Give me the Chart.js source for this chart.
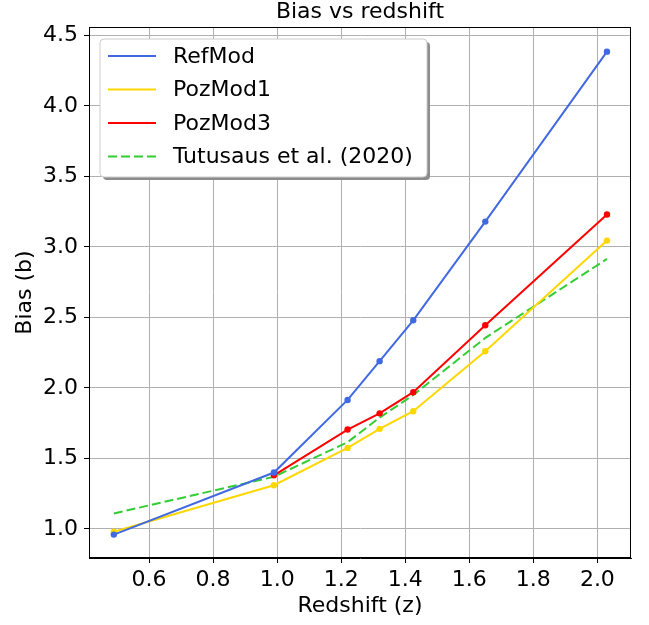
<!DOCTYPE html>
<html>
<head>
<meta charset="utf-8">
<title>Bias vs redshift</title>
<script src="https://cdn.jsdelivr.net/npm/chart.js@4.4.1/dist/chart.umd.min.js"></script>
<style>
  html, body { margin: 0; padding: 0; background: #ffffff; }
  #wrap { width: 649px; height: 625px; }
</style>
</head>
<body>
<div id="wrap"><canvas id="biasChart" width="649" height="625"></canvas></div>
<script>
// redshift bins and bias per model
const redshift = [0.49, 0.99, 1.22, 1.32, 1.425, 1.65, 2.03];
const refMod   = [0.96, 1.40, 1.915, 2.19, 2.48, 3.18, 4.385];
const pozMod1  = [0.98, 1.31, 1.575, 1.71, 1.835, 2.26, 3.045];
const pozMod3  = [null, 1.38, 1.705, 1.82, 1.97, 2.445, 3.23];
const tutusaus = [1.11, 1.37, 1.615, 1.79, 1.95, 2.355, 2.915];

const xTicks = [0.6, 0.8, 1.0, 1.2, 1.4, 1.6, 1.8, 2.0];
const yTicks = [1.0, 1.5, 2.0, 2.5, 3.0, 3.5, 4.0, 4.5];

const chartTitle = 'Bias vs redshift';

const FONT = 'DejaVu Sans';
const FONT_SIZE = 22;

function toPoints(ys) {
    return redshift.map((z, i) => ({ x: z, y: ys[i] }));
}

function series(label, ys, color, dashed) {
    return {
        label: label,
        data: toPoints(ys),
        borderColor: color,
        backgroundColor: color,
        borderWidth: 2,
        borderDash: dashed ? [9, 4] : [],
        pointRadius: dashed ? 0 : 3.2,
        pointHoverRadius: dashed ? 0 : 3.2,
        pointBorderWidth: 0,
        tension: 0,
        spanGaps: false,
        fill: false
    };
}

// black frame around the plotting area + title centred over it
const frame = {
    id: 'frame',
    afterDatasetsDraw(chart) {
        const { ctx, chartArea: a } = chart;
        ctx.save();
        ctx.strokeStyle = '#000';
        ctx.lineWidth = 1;
        ctx.strokeRect(Math.round(a.left) + 0.5, Math.round(a.top) + 0.5,
                       Math.round(a.right - a.left) - 1, Math.round(a.bottom - a.top) - 1);

        ctx.font = FONT_SIZE + 'px "' + FONT + '"';
        ctx.fillStyle = '#000';
        ctx.textAlign = 'center';
        ctx.textBaseline = 'middle';
        ctx.fillText(chartTitle, (a.left + a.right) / 2, 12);
        ctx.restore();
    }
};

function roundRect(ctx, x, y, w, h, r) {
    ctx.beginPath();
    ctx.moveTo(x + r, y);
    ctx.lineTo(x + w - r, y);
    ctx.quadraticCurveTo(x + w, y, x + w, y + r);
    ctx.lineTo(x + w, y + h - r);
    ctx.quadraticCurveTo(x + w, y + h, x + w - r, y + h);
    ctx.lineTo(x + r, y + h);
    ctx.quadraticCurveTo(x, y + h, x, y + h - r);
    ctx.lineTo(x, y + r);
    ctx.quadraticCurveTo(x, y, x + r, y);
    ctx.closePath();
}

// legend box with a drop shadow, upper left inside the axes
const boxLegend = {
    id: 'boxLegend',
    afterDraw(chart) {
        const ctx = chart.ctx;
        const bx = 100, by = 39, bw = 327, bh = 138;
        ctx.save();
        roundRect(ctx, bx + 3, by + 3, bw, bh, 4);
        ctx.fillStyle = '#8c8c8c';
        ctx.fill();
        roundRect(ctx, bx, by, bw, bh, 4);
        ctx.fillStyle = '#ffffff';
        ctx.fill();
        ctx.strokeStyle = '#cccccc';
        ctx.lineWidth = 1;
        ctx.stroke();

        ctx.font = FONT_SIZE + 'px "' + FONT + '"';
        ctx.textBaseline = 'middle';
        ctx.textAlign = 'left';
        chart.data.datasets.forEach((ds, i) => {
            const rowY = by + 17 + i * 33.5;
            ctx.beginPath();
            ctx.setLineDash(ds.borderDash || []);
            ctx.strokeStyle = ds.borderColor;
            ctx.lineWidth = 2;
            ctx.moveTo(108, rowY);
            ctx.lineTo(156, rowY);
            ctx.stroke();
            ctx.setLineDash([]);
            ctx.fillStyle = '#000';
            ctx.fillText(ds.label, 173, rowY + 1);
        });
        ctx.restore();
    }
};

const ctx = document.getElementById('biasChart').getContext('2d');

new Chart(ctx, {
    type: 'line',
    data: {
        datasets: [
            series('RefMod', refMod, '#4169E1', false),
            series('PozMod1', pozMod1, '#FFD700', false),
            series('PozMod3', pozMod3, '#FF0000', false),
            series('Tutusaus et al. (2020)', tutusaus, '#32CD32', true)
        ]
    },
    options: {
        responsive: false,
        animation: false,
        layout: { padding: { left: 0, right: 18, top: 27, bottom: 0 } },
        plugins: {
            legend: { display: false },
            tooltip: { enabled: false },
            title: { display: false }
        },
        scales: {
            x: {
                type: 'linear',
                min: 0.4125,
                max: 2.105,
                afterBuildTicks: scale => { scale.ticks = xTicks.map(v => ({ value: v })); },
                afterFit: scale => {
                    scale.height = 67;
                    scale.paddingLeft = 0;
                    scale.paddingRight = 0;
                },
                ticks: {
                    color: '#000',
                    font: { family: FONT, size: FONT_SIZE },
                    padding: 4,
                    maxRotation: 0,
                    callback: v => v.toFixed(1)
                },
                grid: {
                    color: '#b0b0b0',
                    lineWidth: 1,
                    tickColor: '#000',
                    tickLength: 5
                },
                border: { color: '#000', width: 1 },
                title: {
                    display: true,
                    text: 'Redshift (z)',
                    color: '#000',
                    font: { family: FONT, size: FONT_SIZE },
                    padding: { top: 0, bottom: 6 }
                }
            },
            y: {
                type: 'linear',
                min: 0.794,
                max: 4.56,
                afterBuildTicks: scale => { scale.ticks = yTicks.map(v => ({ value: v })); },
                afterFit: scale => {
                    scale.width = 89;
                    scale.paddingTop = 0;
                    scale.paddingBottom = 0;
                },
                ticks: {
                    color: '#000',
                    font: { family: FONT, size: FONT_SIZE },
                    padding: 6,
                    callback: v => v.toFixed(1)
                },
                grid: {
                    color: '#b0b0b0',
                    lineWidth: 1,
                    tickColor: '#000',
                    tickLength: 5
                },
                border: { color: '#000', width: 1 },
                title: {
                    display: true,
                    text: 'Bias (b)',
                    color: '#000',
                    font: { family: FONT, size: FONT_SIZE },
                    padding: { top: 12, bottom: 0 }
                }
            }
        }
    },
    plugins: [frame, boxLegend]
});
</script>
</body>
</html>
